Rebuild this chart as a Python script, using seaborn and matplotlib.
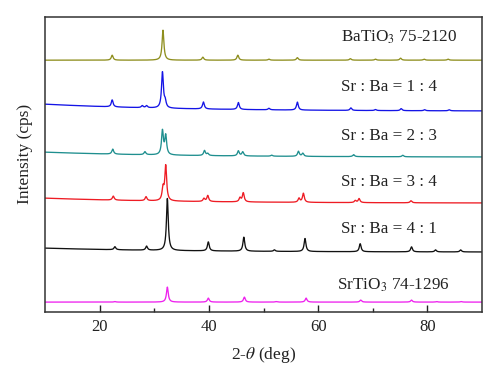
import numpy as np
import pandas as pd
import matplotlib
matplotlib.use("Agg")
import matplotlib.pyplot as plt
import seaborn as sns

# XRD patterns, peaks (position in deg, height in px-ish units)
samples = ["BaTiO3", "Sr:Ba=1:4", "Sr:Ba=2:3", "Sr:Ba=3:4", "Sr:Ba=4:1", "SrTiO3"]
labels = [r"BaTiO$_3$ 75-2120", "Sr : Ba = 1 : 4", "Sr : Ba = 2 : 3",
          "Sr : Ba = 3 : 4", "Sr : Ba = 4 : 1", r"SrTiO$_3$ 74-1296"]
colors = ["#8f8f1f", "#1414e6", "#1f8f8f", "#ee1c24", "#111111", "#ee22ee"]

# baseline level at 10 deg and at 90 deg
base_left = [322, 278, 230, 184, 134, 80]
base_right = [322, 271, 225, 179, 130, 80]

pk_ba = [22.3, 31.6, 38.9, 45.3, 51.0, 56.2, 65.9, 70.5, 75.1, 79.4, 83.8]
ht_ba = [5, 30, 3, 5, 1, 2.5, 1.5, 1, 2, 1, 1]

pk_14 = [22.3, 27.8, 28.6, 31.5, 32.0, 39.0, 45.4, 51.0, 56.2, 66.0, 70.5, 75.2, 79.5, 84.0]
ht_14 = [7, 2, 2, 36, 6, 7, 7, 1.5, 8, 2.5, 1, 2, 1, 1]

pk_23 = [22.4, 28.3, 31.5, 32.1, 39.2, 39.8, 45.4, 46.2, 51.5, 56.4, 57.2, 66.5, 75.5]
ht_23 = [5, 3, 24, 19, 5, 2, 5, 4, 1, 5, 3, 2, 1.5]

pk_34 = [22.5, 28.5, 31.6, 32.1, 39.1, 39.8, 45.7, 46.3, 56.5, 57.3, 66.8, 67.5, 77.0]
ht_34 = [4, 4, 12, 35, 3, 6, 4, 9, 4, 9, 2, 4, 2]

pk_41 = [22.8, 28.6, 32.4, 39.9, 46.4, 52.0, 57.6, 67.7, 77.1, 81.5, 86.1]
ht_41 = [3, 4, 52, 9, 14, 1.5, 13, 8, 5, 2, 2]

pk_sr = [22.8, 32.4, 39.9, 46.5, 52.3, 57.8, 67.8, 77.1, 81.7, 86.2]
ht_sr = [0.5, 15, 4, 5, 0.5, 4, 2, 2, 0.5, 0.5]

peaks = [pk_ba, pk_14, pk_23, pk_34, pk_41, pk_sr]
heights = [ht_ba, ht_14, ht_23, ht_34, ht_41, ht_sr]

label_x = [64.2, 64.1, 64.1, 64.1, 64.1, 63.5]
label_y = [345, 295.5, 246, 200.5, 153, 97]

two_theta = np.linspace(10, 90, 2001)
fwhm = 0.4

frames = []
for name, pk, ht, b0, b1 in zip(samples, peaks, heights, base_left, base_right):
    # slowly falling background plus lorentzian peaks
    bg = b1 + (b0 - b1) * np.exp(-(two_theta - 10) / 25.0)
    y = bg.copy()
    for p, h in zip(pk, ht):
        y += h / (1 + ((two_theta - p) / (fwhm / 2)) ** 2)
    frames.append(pd.DataFrame({"two_theta": two_theta, "intensity": y, "sample": name}))
df = pd.concat(frames)

sns.set_style("ticks")
plt.rcParams["font.family"] = ["Liberation Serif", "DejaVu Serif"]
plt.rcParams["mathtext.fontset"] = "stix"

fig = plt.figure(figsize=(5.0, 3.82), dpi=100)
ax = fig.add_axes([0.09, 0.183, 0.874, 0.772])

sns.lineplot(data=df, x="two_theta", y="intensity", hue="sample",
             palette=dict(zip(samples, colors)), legend=False,
             estimator=None, linewidth=0.95, ax=ax)

for lab, lx, ly in zip(labels, label_x, label_y):
    ax.text(lx, ly, lab, fontsize=12.3, ha="left", va="center", color="#222222")

ax.set_xlim(10, 90)
ax.set_ylim(70, 365)
ax.set_xticks([20, 40, 60, 80])
ax.set_xticks([30, 50, 70], minor=True)
ax.set_yticks([])
ax.tick_params(axis="x", which="major", direction="in", length=5, width=1.0,
               labelsize=12, colors="#222222", pad=5)
ax.tick_params(axis="x", which="minor", direction="in", length=3, width=1.0)
for s in ax.spines.values():
    s.set_linewidth(1.1)
    s.set_color("#333333")

ax.set_xlabel(r"2-$\theta$ (deg)", fontsize=12.5, color="#222222", labelpad=7)
ax.set_ylabel("Intensity (cps)", fontsize=12.5, color="#222222")
ax.yaxis.set_label_coords(-0.027, 0.535)

fig.savefig("out.png", dpi=100)
